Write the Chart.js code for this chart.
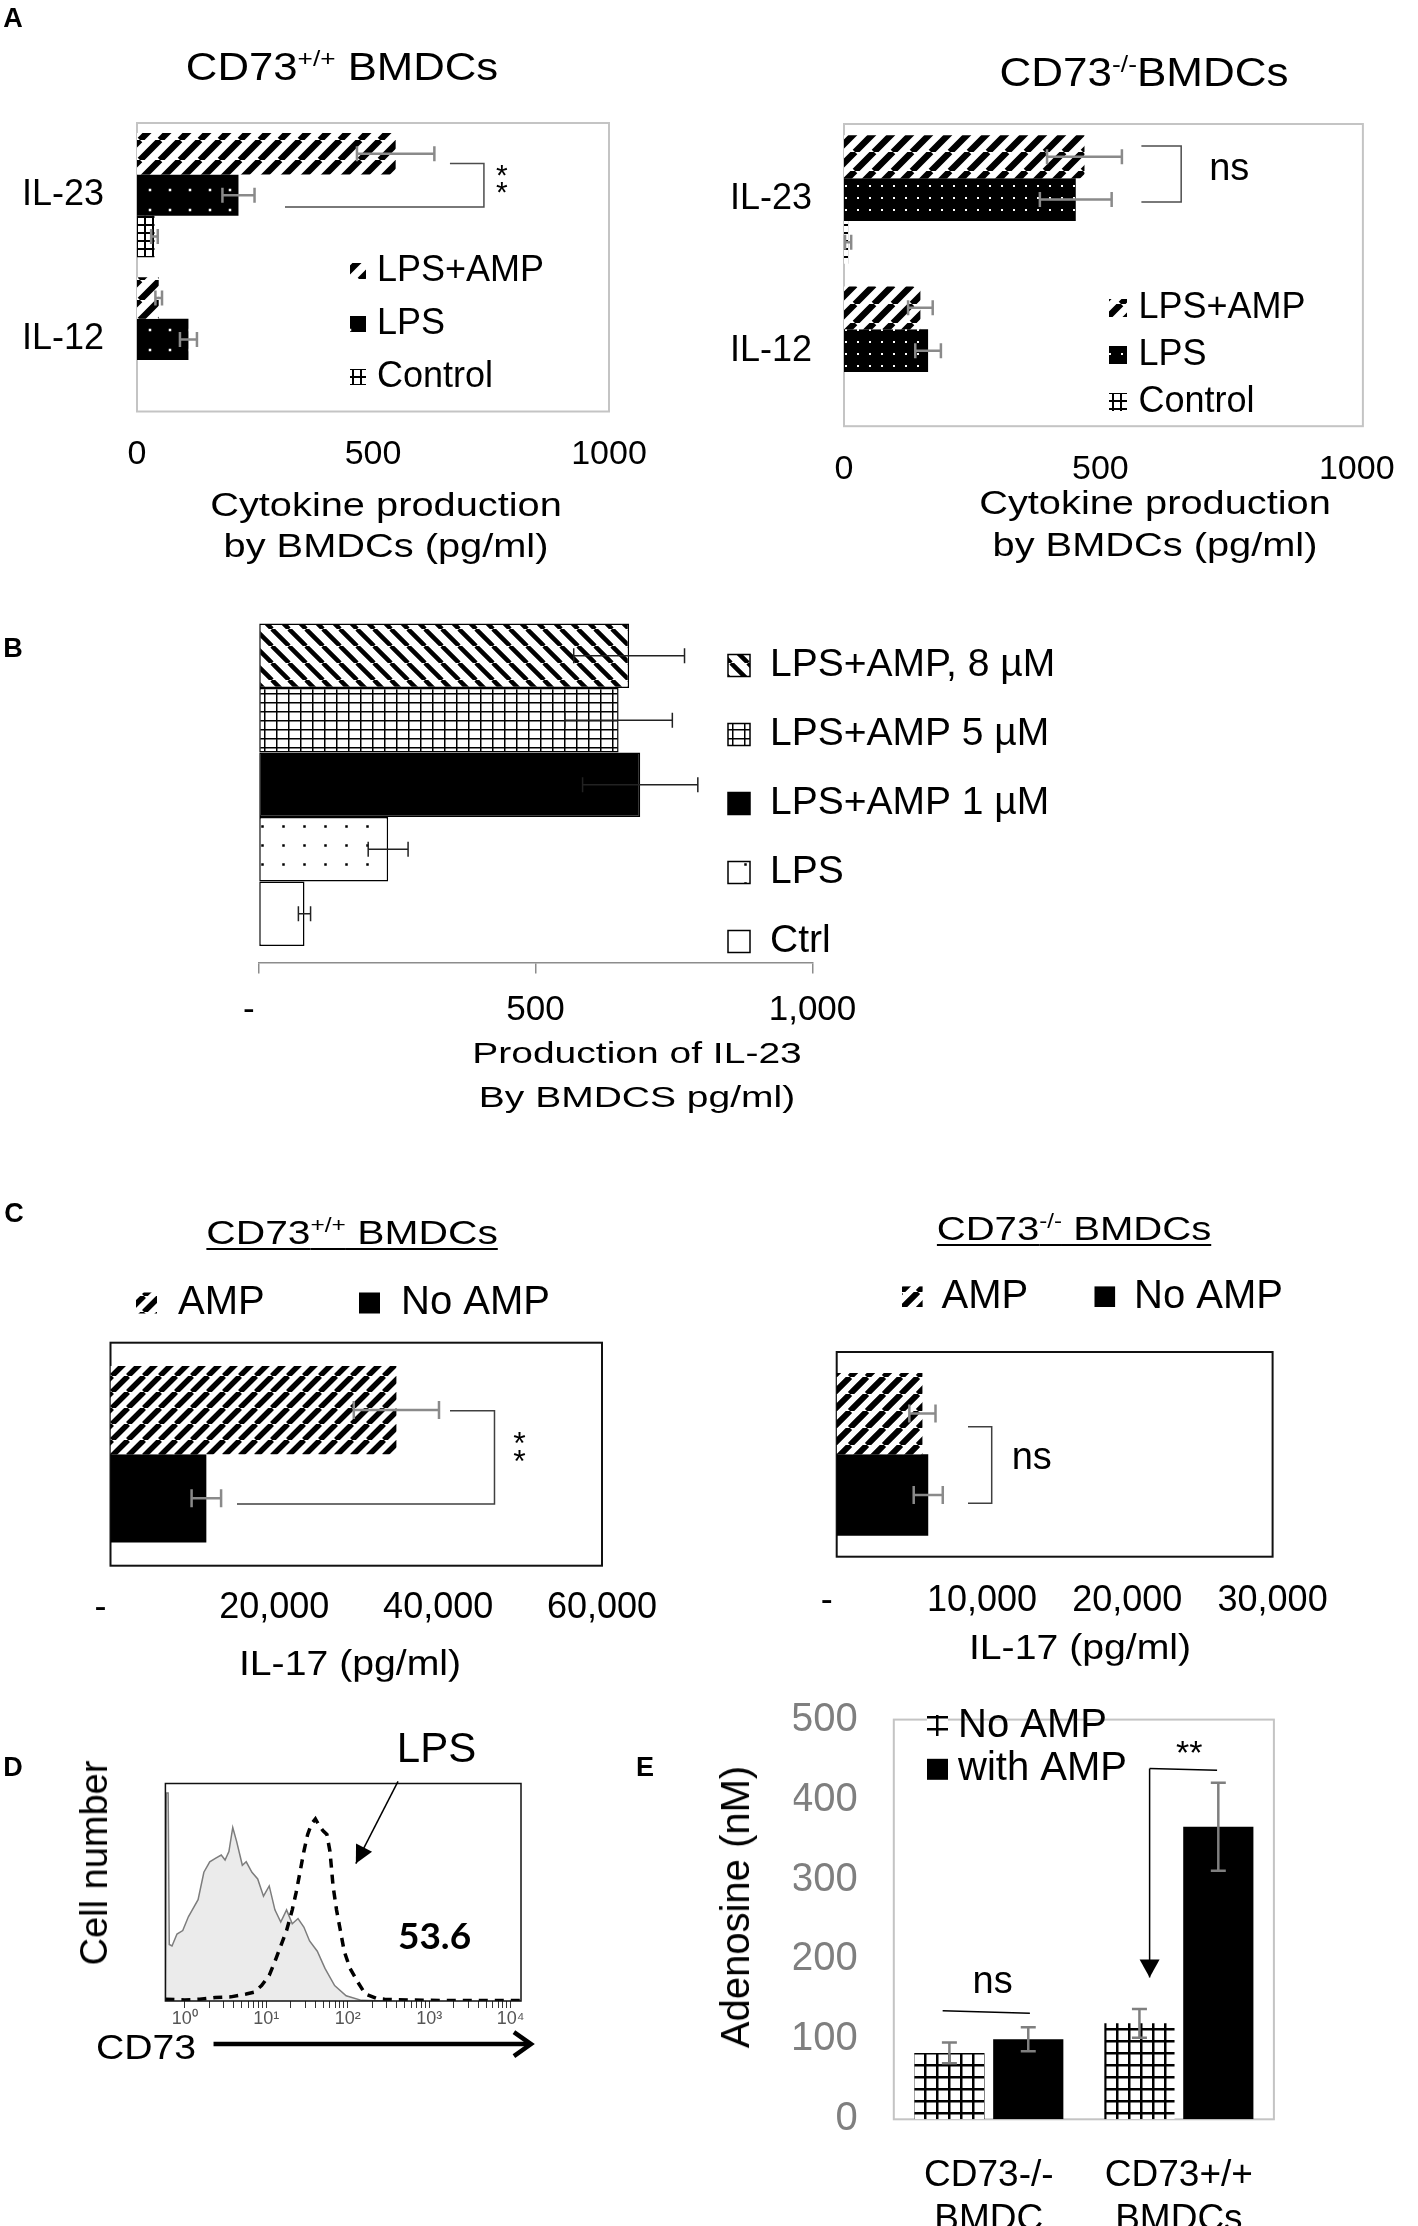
<!DOCTYPE html>
<html>
<head>
<meta charset="utf-8">
<script src="https://cdn.jsdelivr.net/npm/chart.js@4.4.1/dist/chart.umd.min.js"></script>
<style>
  body { margin: 0; background: #fff; }
  #page { position: relative; width: 1418px; height: 2226px; overflow: hidden; background: #fff;
          font-family: "Liberation Sans", Arial, Helvetica, sans-serif; color: #000; }
  #page canvas { position: absolute; left: 0; top: 0; }
  .t { position: absolute; white-space: nowrap; line-height: 1; transform: translate(-50%, -50%); }
  .b { font-weight: bold; font-size: 27px; }
  .u { text-decoration: underline; text-decoration-thickness: 2px; text-underline-offset: 4px; }
  sup { font-size: 0.6em; vertical-align: 0; position: relative; top: -0.6em; }
</style>
</head>
<body>
<div id="page">
  <canvas id="a1" width="1418" height="2226"></canvas>
  <canvas id="a2" width="1418" height="2226"></canvas>
  <canvas id="b" width="1418" height="2226"></canvas>
  <canvas id="c1" width="1418" height="2226"></canvas>
  <canvas id="c2" width="1418" height="2226"></canvas>
  <canvas id="d" width="1418" height="2226"></canvas>
  <canvas id="e" width="1418" height="2226"></canvas>

  <div class="t b" style="left:13px;top:18px">A</div>
  <div class="t" style="left:342px;top:67px;font-size:38px;transform:translate(-50%,-50%) scaleX(1.15)">CD73<sup>+/+</sup> BMDCs</div>
  <div class="t" style="left:1144px;top:72px;font-size:40px;transform:translate(-50%,-50%) scaleX(1.1)">CD73<sup>-/-</sup>BMDCs</div>
  <div class="t" style="left:386px;top:504px;font-size:34px;transform:translate(-50%,-50%) scaleX(1.17)">Cytokine production</div>
  <div class="t" style="left:386px;top:545px;font-size:34px;transform:translate(-50%,-50%) scaleX(1.17)">by BMDCs (pg/ml)</div>
  <div class="t" style="left:1155px;top:502px;font-size:34px;transform:translate(-50%,-50%) scaleX(1.17)">Cytokine production</div>
  <div class="t" style="left:1155px;top:544px;font-size:34px;transform:translate(-50%,-50%) scaleX(1.17)">by BMDCs (pg/ml)</div>

  <div class="t b" style="left:13px;top:648px">B</div>
  <div class="t" style="left:637px;top:1053px;font-size:30px;transform:translate(-50%,-50%) scaleX(1.3)">Production of IL-23</div>
  <div class="t" style="left:637px;top:1097px;font-size:30px;transform:translate(-50%,-50%) scaleX(1.3)">By BMDCS pg/ml)</div>

  <div class="t b" style="left:14px;top:1213px">C</div>
  <div class="t u" style="left:352px;top:1232px;font-size:34px;transform:translate(-50%,-50%) scaleX(1.2)">CD73<sup>+/+</sup> BMDCs</div>
  <div class="t u" style="left:1074px;top:1228px;font-size:34px;transform:translate(-50%,-50%) scaleX(1.18)">CD73<sup>-/-</sup> BMDCs</div>
  <div class="t" style="left:350px;top:1662px;font-size:35px;transform:translate(-50%,-50%) scaleX(1.12)">IL-17 (pg/ml)</div>
  <div class="t" style="left:1080px;top:1646px;font-size:35px;transform:translate(-50%,-50%) scaleX(1.12)">IL-17 (pg/ml)</div>

  <div class="t b" style="left:13px;top:1767px">D</div>
  <div class="t" style="left:94px;top:1863px;font-size:38px;transform:translate(-50%,-50%) rotate(-90deg)">Cell number</div>
  <div class="t" style="left:146px;top:2046px;font-size:35px;transform:translate(-50%,-50%) scaleX(1.12)">CD73</div>

  <div class="t b" style="left:645px;top:1767px">E</div>
  <div class="t" style="left:735px;top:1907px;font-size:40px;transform:translate(-50%,-50%) rotate(-90deg)">Adenosine (nM)</div>
</div>
<script>
// panel A: cytokines by BMDCs (pg/ml)
const aCats = ['IL-23', 'IL-12'];
const aSeries = ['LPS+AMP', 'LPS', 'Control'];
const aTicks = [0, 500, 1000];
const aWtLpsAmp = [548, 46];
const aWtLpsAmpErr = [82, 7];
const aWtLps = [215, 109];
const aWtLpsErr = [34, 18];
const aWtCtrl = [37, 0];
const aWtCtrlErr = [7, 0];
const aKoLpsAmp = [469, 149];
const aKoLpsAmpErr = [73, 24];
const aKoLps = [452, 164];
const aKoLpsErr = [70, 25];
const aKoCtrl = [8, 0];
const aKoCtrlErr = [6, 0];

// panel B: IL-23 by AMP dose
const bSeries = ['LPS+AMP, 8 µM', 'LPS+AMP 5 µM', 'LPS+AMP 1 µM', 'LPS', 'Ctrl'];
const bIl23 = [669, 650, 689, 234, 83];
const bIl23Err = [100, 97, 104, 36, 11];

// panel C: IL-17 (pg/ml)
const cSeries = ['AMP', 'No AMP'];
const cWt = [34900, 11700];
const cWtErr = [5200, 1800];
const cKo = [5900, 6300];
const cKoErr = [900, 1000];

// panel D: CD73 histograms
const dCtrlX = [0.58, 0.594, 0.627, 0.647, 0.699, 0.805, 0.947, 1.11, 1.24, 1.46, 1.72, 2.03, 2.38, 2.81, 3.13, 3.49, 3.89, 4.33, 5.10, 5.69, 6.69, 7.87, 9.27, 10.9, 12.8, 15.1, 17.8, 20.9, 24.6, 29.0, 34.1, 42.4, 52.7, 69.2, 95.8, 148, 284];
const dCtrlY = [0, 95.6, 95.6, 26, 25.3, 30.8, 32.4, 38.7, 41.9, 46.6, 59.2, 64, 65.6, 67.1, 64.8, 68.7, 79.8, 73.5, 62.4, 64, 59.2, 56.1, 48.2, 52.9, 41.9, 36.3, 41.9, 35.5, 37.9, 34, 27.6, 22.9, 15, 7.1, 2.4, 0.3, 0];
const dLpsX = [0.58, 1, 1.54, 2.38, 3.68, 5.69, 7.06, 8.78, 10.9, 12.8, 15.1, 17.8, 20.9, 23.3, 26.0, 29.0, 32.3, 36.0, 40.2, 44.8, 49.9, 55.6, 60.7, 66.2, 73.0, 81.4, 90.7, 107, 133, 165, 228, 284, 841, 13400];
const dLpsY = [0.8, 0.5, 0.8, 1.6, 1.9, 3.2, 4.0, 7.1, 11.8, 18.2, 25.3, 32.4, 41.9, 49.8, 59.2, 68.7, 76.6, 81.4, 83.7, 80.6, 78.2, 76.6, 68.7, 52.9, 41.9, 32.4, 22.9, 15, 8.7, 3.2, 1.1, 0.8, 0.3, 0.2];
const dDecades = [1, 10, 100, 1000, 10000];
const dSup = ['⁰', '¹', '²', '³', '⁴'];

// panel E: adenosine (nM)
const eCats = [['CD73-/-', 'BMDC'], ['CD73+/+', 'BMDCs']];
const eSeries = ['No AMP', 'with AMP'];
const eNoAmp = [83, 120];
const eNoAmpErr = [13, 18];
const eAmp = [100, 366];
const eAmpErr = [15, 55];

const W = 1418, H = 2226;
const SANS = '"Liberation Sans", Arial, Helvetica, sans-serif';
Chart.defaults.font.family = SANS;
Chart.defaults.color = '#000';
Chart.defaults.animation = false;
Chart.defaults.events = [];
Chart.defaults.responsive = false;
Chart.defaults.plugins.legend.display = false;
Chart.defaults.plugins.tooltip.enabled = false;

// chart area in page pixels -> layout padding for a full page canvas
function frameAt(area, yw, xh) {
  return { padding: { left: area[0] - yw, top: area[1], right: W - area[2], bottom: H - area[3] - xh } };
}
const noGrid = { display: false, drawTicks: false };
const noBorder = { display: false };

// fill patterns
function tile(w, h, paint) {
  const c = document.createElement('canvas');
  c.width = w; c.height = h;
  const g = c.getContext('2d');
  paint(g, w, h);
  return g.createPattern(c, 'repeat');
}
function slash(s, lw) {
  return tile(s, s, g => {
    g.fillStyle = '#fff'; g.fillRect(0, 0, s, s);
    g.strokeStyle = '#000'; g.lineWidth = lw; g.beginPath();
    for (let k = -1; k <= 1; k++) { g.moveTo(k * s, s); g.lineTo(k * s + s, 0); }
    g.stroke();
  });
}
function backslash(s, lw) {
  return tile(s, s, g => {
    g.fillStyle = '#fff'; g.fillRect(0, 0, s, s);
    g.strokeStyle = '#000'; g.lineWidth = lw; g.beginPath();
    for (let k = -1; k <= 1; k++) { g.moveTo(k * s, 0); g.lineTo(k * s + s, s); }
    g.stroke();
  });
}
function dots(w, h, r, bg, fg) {
  return tile(w, h, g => {
    g.fillStyle = bg; g.fillRect(0, 0, w, h);
    g.fillStyle = fg; g.fillRect(w / 2 - r / 2, h / 2 - r / 2, r, r);
  });
}
function mesh(w, h, lw) {
  return tile(w, h, g => {
    g.fillStyle = '#fff'; g.fillRect(0, 0, w, h);
    g.fillStyle = '#000'; g.fillRect(0, 0, lw, h); g.fillRect(0, 0, w, lw);
  });
}

// plugins
function framePlugin(o) {
  const draw = chart => {
    const a = chart.chartArea, ctx = chart.ctx;
    ctx.save();
    ctx.strokeStyle = o.color; ctx.lineWidth = o.width;
    ctx.strokeRect(a.left, a.top, a.right - a.left, a.bottom - a.top);
    ctx.restore();
  };
  return {
    id: 'frame',
    beforeDatasetsDraw(chart) { if (!o.over) draw(chart); },
    afterDatasetsDraw(chart) { if (o.over) draw(chart); }
  };
}

function errorBarPlugin(o) {
  return {
    id: 'errorBars',
    afterDatasetsDraw(chart) {
      const ctx = chart.ctx;
      const horizontal = chart.options.indexAxis === 'y';
      const scale = horizontal ? chart.scales.x : chart.scales.y;
      chart.data.datasets.forEach((ds, i) => {
        if (!ds.errors) return;
        chart.getDatasetMeta(i).data.forEach((bar, j) => {
          const err = ds.errors[j];
          if (!err) return;
          const lo = scale.getPixelForValue(ds.data[j] - err);
          const hi = scale.getPixelForValue(ds.data[j] + err);
          ctx.save();
          ctx.strokeStyle = o.color; ctx.lineWidth = o.width;
          ctx.beginPath();
          if (horizontal) {
            ctx.moveTo(lo, bar.y); ctx.lineTo(hi, bar.y);
            ctx.moveTo(lo, bar.y - o.cap); ctx.lineTo(lo, bar.y + o.cap);
            ctx.moveTo(hi, bar.y - o.cap); ctx.lineTo(hi, bar.y + o.cap);
          } else {
            ctx.moveTo(bar.x, lo); ctx.lineTo(bar.x, hi);
            ctx.moveTo(bar.x - o.cap, lo); ctx.lineTo(bar.x + o.cap, lo);
            ctx.moveTo(bar.x - o.cap, hi); ctx.lineTo(bar.x + o.cap, hi);
          }
          ctx.stroke();
          ctx.restore();
        });
      });
    }
  };
}

function legendPlugin(o) {
  return {
    id: 'boxLegend',
    afterDraw(chart) {
      const ctx = chart.ctx;
      chart.data.datasets.forEach((ds, i) => {
        const x = o.x + i * (o.dx || 0);
        const y = o.y + i * (o.dy || 0);
        ctx.save();
        ctx.fillStyle = ds.backgroundColor;
        ctx.fillRect(x, y - o.size / 2, o.size, o.size);
        if (o.outline) {
          ctx.strokeStyle = '#000'; ctx.lineWidth = 1.5;
          ctx.strokeRect(x, y - o.size / 2, o.size, o.size);
        }
        ctx.fillStyle = '#000';
        ctx.font = o.font + 'px ' + SANS;
        ctx.textAlign = 'left'; ctx.textBaseline = 'middle';
        ctx.fillText(ds.label, x + o.size + o.gap, y);
        ctx.restore();
      });
    }
  };
}

function arrowHead(ctx, a, b, h) {
  const ang = Math.atan2(b[1] - a[1], b[0] - a[0]);
  const bx = b[0] - Math.cos(ang) * h.len, by = b[1] - Math.sin(ang) * h.len;
  const nx = -Math.sin(ang) * h.half, ny = Math.cos(ang) * h.half;
  ctx.beginPath();
  ctx.moveTo(bx + nx, by + ny); ctx.lineTo(b[0], b[1]); ctx.lineTo(bx - nx, by - ny);
  if (h.open) { ctx.stroke(); } else { ctx.closePath(); ctx.fill(); }
}

// brackets, arrows and labels placed in data units
function notesPlugin(items) {
  return {
    id: 'notes',
    afterDraw(chart) {
      const ctx = chart.ctx, sx = chart.scales.x, sy = chart.scales.y;
      const at = p => [sx.getPixelForValue(p[0]), sy.getPixelForValue(p[1])];
      items.forEach(n => {
        ctx.save();
        ctx.strokeStyle = ctx.fillStyle = n.color || '#000';
        ctx.lineWidth = n.width || 1.5;
        if (n.path) {
          const pts = n.path.map(at);
          ctx.beginPath();
          pts.forEach((p, i) => { if (i) ctx.lineTo(p[0], p[1]); else ctx.moveTo(p[0], p[1]); });
          ctx.stroke();
          if (n.head) arrowHead(ctx, pts[pts.length - 2], pts[pts.length - 1], n.head);
        }
        if (n.text) {
          const p = at(n.at);
          ctx.font = n.font;
          ctx.textAlign = 'center'; ctx.textBaseline = 'middle';
          ctx.fillText(n.text, p[0], p[1]);
        }
        ctx.restore();
      });
    }
  };
}

const dash = v => (v === 0 ? '-  ' : v.toLocaleString('en-US'));

// ---------- A, CD73+/+ ----------
new Chart(document.getElementById('a1'), {
  type: 'bar',
  data: {
    labels: aCats,
    datasets: [
      { label: aSeries[0], data: aWtLpsAmp, errors: aWtLpsAmpErr, backgroundColor: slash(20, 6.5) },
      { label: aSeries[1], data: aWtLps, errors: aWtLpsErr, backgroundColor: dots(20, 20, 2.5, '#000', '#fff') },
      { label: aSeries[2], data: aWtCtrl, errors: aWtCtrlErr, backgroundColor: mesh(8, 8, 2) }
    ]
  },
  options: {
    devicePixelRatio: 1,
    indexAxis: 'y',
    layout: frameAt([137, 123, 609, 411.5], 137, 70),
    datasets: { bar: { categoryPercentage: 0.86, barPercentage: 1 } },
    scales: {
      x: {
        min: 0, max: 1000, afterFit: s => { s.height = 70; },
        afterBuildTicks: s => { s.ticks = aTicks.map(v => ({ value: v })); },
        grid: noGrid, border: noBorder,
        ticks: { padding: 23, font: { size: 34 }, maxRotation: 0, callback: v => String(v) }
      },
      y: {
        afterFit: s => { s.width = 137; },
        grid: noGrid, border: noBorder,
        ticks: { padding: 33, font: { size: 36 } }
      }
    }
  },
  plugins: [
    framePlugin({ color: '#c4c4c4', width: 2 }),
    errorBarPlugin({ color: '#8a8a8a', width: 2.5, cap: 7.5 }),
    legendPlugin({ x: 350, y: 271, dy: 53, size: 16, gap: 11, font: 36 }),
    notesPlugin([
      { path: [[663, -0.219], [735, -0.219], [735, 0.082], [313.5, 0.082]], color: '#4d4d4d', width: 1.5 },
      { text: '*', at: [773, -0.125], font: '30px ' + SANS },
      { text: '*', at: [773, -0.008], font: '30px ' + SANS }
    ])
  ]
});

// ---------- A, CD73-/- ----------
new Chart(document.getElementById('a2'), {
  type: 'bar',
  data: {
    labels: aCats,
    datasets: [
      { label: aSeries[0], data: aKoLpsAmp, errors: aKoLpsAmpErr, backgroundColor: slash(19, 6.5) },
      { label: aSeries[1], data: aKoLps, errors: aKoLpsErr, backgroundColor: dots(12, 12, 2, '#000', '#fff') },
      { label: aSeries[2], data: aKoCtrl, errors: aKoCtrlErr, backgroundColor: mesh(8, 8, 2) }
    ]
  },
  options: {
    devicePixelRatio: 1,
    indexAxis: 'y',
    layout: frameAt([844, 124, 1380.8, 426.2], 135, 70),
    datasets: { bar: { categoryPercentage: 0.85, barPercentage: 1 } },
    scales: {
      x: {
        min: 0, max: 1012, afterFit: s => { s.height = 70; },
        afterBuildTicks: s => { s.ticks = aTicks.map(v => ({ value: v })); },
        grid: noGrid, border: noBorder,
        ticks: { padding: 23, font: { size: 34 }, maxRotation: 0, callback: v => String(v) }
      },
      y: {
        afterFit: s => { s.width = 135; },
        grid: noGrid, border: noBorder,
        ticks: { padding: 32, font: { size: 36 } }
      }
    }
  },
  plugins: [
    framePlugin({ color: '#c4c4c4', width: 2 }),
    errorBarPlugin({ color: '#8a8a8a', width: 2.5, cap: 7.5 }),
    legendPlugin({ x: 1109, y: 308, dy: 47, size: 18, gap: 11.5, font: 36 }),
    notesPlugin([
      { path: [[580, -0.354], [657.6, -0.354], [657.6, 0.016], [580, 0.016]], color: '#4d4d4d', width: 1.5 },
      { text: 'ns', at: [751.4, -0.202], font: '38px ' + SANS }
    ])
  ]
});

// ---------- B ----------
const bFills = [backslash(17, 4.5), mesh(12, 9, 1.5), '#000', dots(21, 19, 2.5, '#fff', '#000'), '#fff'];
new Chart(document.getElementById('b'), {
  type: 'bar',
  data: {
    labels: ['IL-23'],
    datasets: bSeries.map((name, i) => ({
      label: name, data: [bIl23[i]], errors: [bIl23Err[i]],
      backgroundColor: bFills[i], borderColor: '#000', borderWidth: 1.5, borderSkipped: false
    }))
  },
  options: {
    devicePixelRatio: 1,
    indexAxis: 'y',
    layout: frameAt([258.5, 607, 812.5, 962.6], 0, 80),
    datasets: { bar: { categoryPercentage: 0.907, barPercentage: 1 } },
    scales: {
      x: {
        min: 0, max: 1000, afterFit: s => { s.height = 80; },
        grid: { display: true, drawOnChartArea: false, drawTicks: true, tickLength: 11, color: '#8c8c8c', lineWidth: 1.5 },
        border: { display: true, color: '#8c8c8c', width: 1.5 },
        ticks: { stepSize: 500, padding: 16, font: { size: 35 }, maxRotation: 0, callback: dash }
      },
      y: { display: false, afterFit: s => { s.width = 0; } }
    }
  },
  plugins: [
    errorBarPlugin({ color: '#222', width: 1.5, cap: 7.5 }),
    legendPlugin({ x: 728, y: 665.5, dy: 69, size: 22, gap: 20, font: 39, outline: true })
  ]
});

// ---------- C, CD73+/+ ----------
new Chart(document.getElementById('c1'), {
  type: 'bar',
  data: {
    labels: ['IL-17'],
    datasets: [
      { label: cSeries[0], data: [cWt[0]], errors: [cWtErr[0]], backgroundColor: slash(16, 5.5) },
      { label: cSeries[1], data: [cWt[1]], errors: [cWtErr[1]], backgroundColor: '#000' }
    ]
  },
  options: {
    devicePixelRatio: 1,
    indexAxis: 'y',
    layout: frameAt([110.5, 1342.7, 602, 1565.7], 0, 70),
    datasets: { bar: { categoryPercentage: 0.792, barPercentage: 1 } },
    scales: {
      x: {
        min: 0, max: 60000, afterFit: s => { s.height = 70; },
        grid: noGrid, border: noBorder,
        ticks: { stepSize: 20000, padding: 21, font: { size: 36 }, maxRotation: 0, callback: dash }
      },
      y: { display: false, afterFit: s => { s.width = 0; } }
    }
  },
  plugins: [
    framePlugin({ color: '#111', width: 2 }),
    errorBarPlugin({ color: '#8a8a8a', width: 2.5, cap: 9 }),
    legendPlugin({ x: 136, y: 1303, dx: 223, size: 21, gap: 21, font: 40 }),
    notesPlugin([
      { path: [[41443, -0.195], [46875, -0.195], [46875, 0.223], [15442, 0.223]], color: '#404040', width: 1.5 },
      { text: '*', at: [49927, -0.041], font: '32px ' + SANS },
      { text: '*', at: [49927, 0.04], font: '32px ' + SANS }
    ])
  ]
});

// ---------- C, CD73-/- ----------
new Chart(document.getElementById('c2'), {
  type: 'bar',
  data: {
    labels: ['IL-17'],
    datasets: [
      { label: cSeries[0], data: [cKo[0]], errors: [cKoErr[0]], backgroundColor: slash(17, 6) },
      { label: cSeries[1], data: [cKo[1]], errors: [cKoErr[1]], backgroundColor: '#000' }
    ]
  },
  options: {
    devicePixelRatio: 1,
    indexAxis: 'y',
    layout: frameAt([836.7, 1352, 1272.6, 1556.7], 0, 70),
    datasets: { bar: { categoryPercentage: 0.796, barPercentage: 1 } },
    scales: {
      x: {
        min: 0, max: 30000, afterFit: s => { s.height = 70; },
        grid: noGrid, border: noBorder,
        ticks: { stepSize: 10000, padding: 23, font: { size: 36 }, maxRotation: 0, callback: dash }
      },
      y: { display: false, afterFit: s => { s.width = 0; } }
    }
  },
  plugins: [
    framePlugin({ color: '#111', width: 2 }),
    errorBarPlugin({ color: '#8a8a8a', width: 2.5, cap: 9 }),
    legendPlugin({ x: 902, y: 1296.7, dx: 192.5, size: 20.6, gap: 19, font: 40 }),
    notesPlugin([
      { path: [[9036, -0.135], [10668, -0.135], [10668, 0.239], [9036, 0.239]], color: '#404040', width: 1.5 },
      { text: 'ns', at: [13420, 0.018], font: '38px ' + SANS }
    ])
  ]
});

// ---------- D ----------
const pts = (xs, ys) => xs.map((x, i) => ({ x: x, y: ys[i] }));
const dTickVals = [];
dDecades.slice(0, -1).forEach(d => { for (let k = 1; k < 10; k++) dTickVals.push(d * k); });
dTickVals.push(dDecades[dDecades.length - 1]);

new Chart(document.getElementById('d'), {
  type: 'line',
  data: {
    datasets: [
      { label: 'LPS', data: pts(dLpsX, dLpsY), borderColor: '#000', borderWidth: 3.5, borderDash: [9, 7], pointRadius: 0, fill: false },
      { label: 'Control', data: pts(dCtrlX, dCtrlY), borderColor: '#7d7d7d', borderWidth: 1.5, backgroundColor: '#ebebeb', pointRadius: 0, fill: 'origin' }
    ]
  },
  options: {
    devicePixelRatio: 1,
    layout: frameAt([165.4, 1783.5, 521, 2001], 0, 40),
    scales: {
      x: {
        type: 'logarithmic', min: 0.58, max: 13400,
        afterFit: s => { s.height = 40; },
        afterBuildTicks: s => { s.ticks = dTickVals.map(v => ({ value: v })); },
        grid: { display: true, drawOnChartArea: false, drawTicks: true, tickLength: 7, color: '#333', lineWidth: 1 },
        border: noBorder,
        ticks: {
          autoSkip: false, maxRotation: 0, padding: 0, color: '#555', font: { size: 18 },
          callback: v => (dDecades.includes(v) ? '10' + dSup[dDecades.indexOf(v)] : '')
        }
      },
      y: { display: false, min: 0, max: 100, afterFit: s => { s.width = 0; } }
    }
  },
  plugins: [
    framePlugin({ color: '#111', width: 1.5, over: true }),
    notesPlugin([
      { text: 'LPS', at: [1230, 115.4], font: '42px ' + SANS },
      { path: [[415, 101], [126, 63.2]], width: 1.5, head: { len: 18, half: 9 } },
      { text: '53.6', at: [1164, 29.2], font: 'bold 37px Lato, "Open Sans", sans-serif' },
      { path: [[2.26, -19.8], [17740, -19.8]], width: 4.5, head: { len: 17, half: 12, open: true } }
    ])
  ]
});

// ---------- E ----------
new Chart(document.getElementById('e'), {
  type: 'bar',
  data: {
    labels: eCats,
    datasets: [
      { label: eSeries[0], data: eNoAmp, errors: eNoAmpErr, backgroundColor: mesh(12, 12, 2.5) },
      { label: eSeries[1], data: eAmp, errors: eAmpErr, backgroundColor: '#000' }
    ]
  },
  options: {
    devicePixelRatio: 1,
    layout: frameAt([893.8, 1719.6, 1273.9, 2119.3], 100, 106.7),
    datasets: { bar: { categoryPercentage: 0.83, barPercentage: 0.89 } },
    scales: {
      x: {
        afterFit: s => { s.height = 106.7; },
        grid: noGrid, border: noBorder,
        ticks: { padding: 34, font: { size: 37 }, maxRotation: 0, autoSkip: false }
      },
      y: {
        min: 0, max: 500, afterFit: s => { s.width = 100; },
        grid: noGrid, border: noBorder,
        ticks: { stepSize: 100, padding: 36, color: '#7f7f7f', font: { size: 40 } }
      }
    }
  },
  plugins: [
    framePlugin({ color: '#c4c4c4', width: 2 }),
    errorBarPlugin({ color: '#7f7f7f', width: 2.5, cap: 7.5 }),
    legendPlugin({ x: 927, y: 1725.5, dy: 43.8, size: 21, gap: 10, font: 40 }),
    notesPlugin([
      { path: [[-0.243, 135.7], [0.216, 132.7]], width: 1.5 },
      { text: 'ns', at: [0.02, 170.7], font: '38px ' + SANS },
      { path: [[0.846, 438.7], [1.201, 436.6]], width: 1.5 },
      { path: [[0.846, 438.7], [0.846, 177.4]], width: 1.5, head: { len: 18, half: 10 } },
      { text: '**', at: [1.054, 455.7], font: '34px ' + SANS }
    ])
  ]
});
</script>
</body>
</html>
